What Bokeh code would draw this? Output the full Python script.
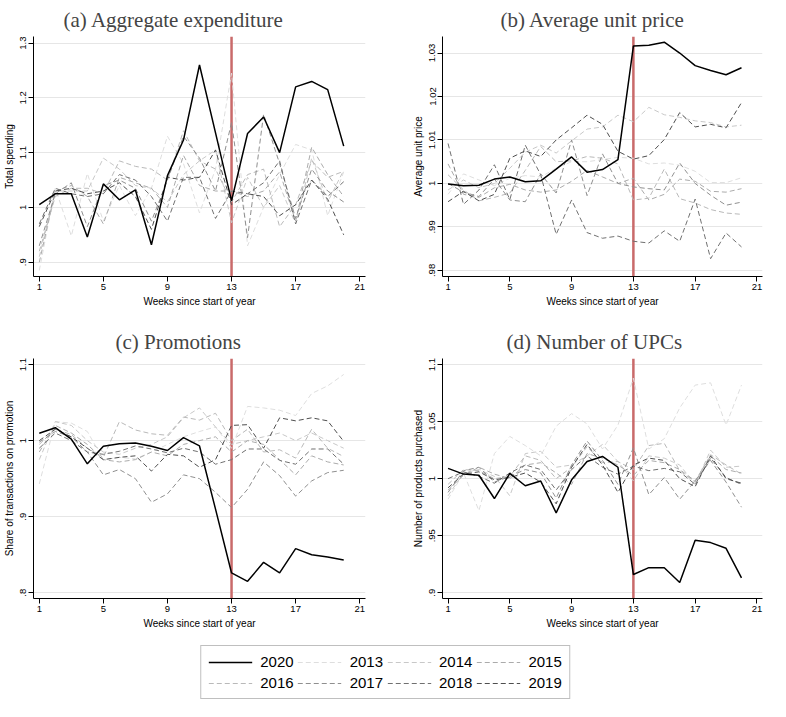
import numpy as np
from bokeh.plotting import figure
from bokeh.models import Range1d, FixedTicker, Span, Legend, LegendItem, ColumnDataSource
from bokeh.layouts import column, row
from bokeh.embed import file_html
from bokeh.resources import INLINE

# ---------------- data ----------------
weeks = list(range(1, 21))
event_week = 13
x_ticks = [1, 5, 9, 13, 17, 21]

years = ["2020", "2013", "2014", "2015", "2016", "2017", "2018", "2019"]

# (a) Aggregate expenditure
spend_2020 = [1.005, 1.025, 1.025, 0.946, 1.043, 1.014, 1.032, 0.932, 1.058, 1.123, 1.260, 1.136, 1.012, 1.135, 1.165, 1.100, 1.220, 1.230, 1.215, 1.112]
spend_2013 = [0.885, 1.035, 0.948, 1.062, 0.975, 1.040, 0.985, 1.035, 1.130, 1.080, 0.990, 1.070, 1.245, 0.930, 1.000, 1.060, 1.115, 1.105, 0.985, 1.065]
spend_2014 = [0.910, 1.030, 1.030, 1.030, 1.090, 1.070, 1.040, 1.035, 1.010, 1.060, 1.085, 1.105, 0.972, 1.055, 1.000, 1.040, 0.970, 1.090, 1.010, 1.068]
spend_2015 = [0.900, 1.030, 1.040, 1.020, 0.970, 1.055, 1.045, 1.035, 1.000, 1.095, 1.040, 1.030, 1.030, 1.020, 1.030, 1.065, 0.975, 1.110, 1.060, 1.020]
spend_2016 = [0.920, 1.020, 1.035, 1.035, 1.025, 1.085, 1.075, 1.070, 1.050, 1.140, 1.085, 1.070, 1.010, 1.060, 1.070, 0.965, 1.005, 1.085, 1.055, 1.066]
spend_2017 = [0.930, 1.025, 1.045, 0.965, 1.040, 1.050, 1.035, 0.975, 1.050, 1.130, 1.090, 1.030, 1.155, 0.945, 1.170, 1.080, 0.980, 1.070, 1.030, 1.010]
spend_2018 = [0.970, 1.035, 1.025, 1.020, 1.025, 1.060, 1.050, 1.020, 0.975, 1.055, 1.055, 0.980, 1.030, 1.025, 1.045, 1.085, 0.970, 1.050, 1.020, 1.047]
spend_2019 = [0.965, 1.030, 1.035, 1.025, 1.030, 1.045, 1.020, 0.960, 1.055, 1.050, 1.055, 1.105, 1.005, 1.025, 1.020, 0.985, 1.005, 1.050, 1.015, 0.950]

# (b) Average unit price
price_2020 = [0.9999, 0.9995, 0.9996, 1.0010, 1.0015, 1.0004, 1.0006, 1.0033, 1.0061, 1.0026, 1.0032, 1.0055, 1.0316, 1.0318, 1.0325, 1.0300, 1.0271, 1.0260, 1.0250, 1.0266]
price_2013 = [0.9975, 1.0022, 1.0008, 0.9995, 1.0012, 1.0018, 1.0015, 1.0035, 1.0050, 1.0050, 1.0055, 1.0060, 1.0058, 1.0045, 1.0047, 1.0042, 1.0028, 1.0002, 1.0002, 1.0013]
price_2014 = [0.9985, 1.0008, 0.9990, 1.0000, 1.0035, 1.0072, 1.0088, 1.0070, 1.0098, 1.0125, 1.0130, 1.0157, 1.0142, 1.0175, 1.0158, 1.0152, 1.0144, 1.0140, 1.0130, 1.0134]
price_2015 = [1.0045, 0.9975, 0.9968, 0.9990, 0.9998, 0.9985, 0.9980, 0.9985, 1.0005, 1.0030, 1.0015, 1.0000, 1.0012, 0.9962, 0.9975, 1.0010, 1.0005, 0.9982, 0.9980, 0.9988]
price_2016 = [1.0020, 0.9985, 0.9960, 0.9968, 0.9978, 1.0030, 1.0085, 1.0050, 1.0052, 1.0062, 1.0058, 1.0045, 0.9962, 0.9966, 1.0033, 0.9965, 0.9955, 0.9940, 0.9932, 0.9929]
price_2017 = [1.0000, 0.9980, 0.9970, 1.0010, 0.9962, 0.9958, 1.0022, 0.9978, 1.0100, 0.9972, 1.0068, 1.0000, 0.9992, 0.9988, 0.9985, 1.0047, 1.0000, 0.9973, 0.9950, 0.9957]
price_2018 = [1.0092, 0.9952, 0.9985, 1.0043, 0.9963, 1.0088, 1.0020, 0.9883, 0.9962, 0.9887, 0.9874, 0.9879, 0.9867, 0.9863, 0.9891, 0.9867, 0.9964, 0.9827, 0.9886, 0.9854]
price_2019 = [0.9958, 0.9982, 0.9960, 0.9975, 1.0058, 1.0075, 1.0062, 1.0100, 1.0128, 1.0157, 1.0136, 1.0074, 1.0056, 1.0064, 1.0101, 1.0163, 1.0130, 1.0136, 1.0128, 1.0186]

# (c) Promotions
promo_2020 = [1.0097, 1.0170, 1.0020, 0.9695, 0.9925, 0.9960, 0.9970, 0.9925, 0.9870, 1.0040, 0.9930, 0.9100, 0.8260, 0.8150, 0.8400, 0.8260, 0.8580, 0.8500, 0.8470, 0.8430]
promo_2013 = [0.943, 1.025, 1.023, 1.012, 0.975, 0.978, 0.976, 0.985, 0.995, 1.005, 1.012, 1.018, 0.990, 1.045, 1.043, 1.040, 1.033, 1.062, 1.072, 1.087]
promo_2014 = [0.975, 1.025, 1.020, 1.000, 0.985, 0.982, 0.990, 0.995, 1.005, 1.030, 1.043, 1.018, 0.995, 1.000, 1.005, 1.010, 1.000, 1.010, 1.000, 0.990]
promo_2015 = [0.985, 1.020, 1.010, 0.995, 0.975, 0.972, 0.975, 0.985, 0.980, 0.995, 1.000, 1.005, 0.985, 1.000, 0.995, 0.975, 0.955, 0.980, 0.972, 0.968]
promo_2016 = [0.995, 1.015, 1.008, 0.990, 0.978, 1.025, 1.014, 1.009, 1.007, 1.031, 1.027, 1.036, 1.000, 1.015, 0.985, 0.988, 0.977, 1.015, 0.990, 0.979]
promo_2017 = [0.998, 1.012, 1.005, 0.985, 0.955, 0.962, 0.950, 0.919, 0.930, 0.955, 0.950, 0.932, 0.912, 0.936, 0.972, 0.954, 0.927, 0.947, 0.958, 0.961]
promo_2018 = [0.990, 1.010, 1.000, 0.985, 0.982, 0.986, 0.993, 0.989, 0.984, 0.990, 0.985, 0.969, 0.975, 0.989, 0.989, 0.974, 0.969, 0.989, 0.989, 0.969]
promo_2019 = [1.000, 1.015, 1.005, 0.990, 0.975, 0.978, 0.980, 0.960, 0.982, 0.980, 0.965, 0.975, 1.020, 1.021, 0.990, 1.030, 1.026, 1.030, 1.026, 0.999]

# (d) Number of UPCs
upc_2020 = [1.009, 1.004, 1.003, 0.9826, 1.0047, 0.9938, 0.998, 0.970, 0.999, 1.015, 1.0195, 1.010, 0.916, 0.922, 0.922, 0.909, 0.946, 0.944, 0.939, 0.913]
upc_2013 = [0.982, 1.005, 0.972, 1.022, 1.037, 1.029, 1.020, 1.046, 1.057, 1.048, 1.026, 1.047, 1.088, 1.026, 1.035, 1.062, 1.082, 1.084, 1.047, 1.082]
upc_2014 = [0.985, 1.005, 1.008, 1.002, 0.985, 1.022, 1.024, 1.010, 1.012, 1.020, 1.030, 1.015, 0.998, 1.020, 1.018, 1.012, 0.995, 1.025, 1.010, 1.011]
upc_2015 = [0.990, 1.003, 1.010, 1.004, 1.000, 1.012, 1.014, 1.005, 0.995, 1.022, 1.018, 1.012, 1.003, 1.016, 1.014, 1.008, 0.998, 1.020, 1.008, 1.005]
upc_2016 = [0.995, 1.008, 1.007, 1.000, 1.002, 1.020, 1.016, 1.000, 1.010, 1.028, 1.014, 1.015, 1.008, 1.029, 1.031, 1.007, 0.997, 1.021, 1.012, 1.004]
upc_2017 = [0.988, 1.007, 1.010, 0.997, 1.002, 1.008, 1.005, 0.983, 1.012, 1.033, 1.016, 0.995, 1.027, 0.986, 1.001, 0.982, 0.998, 1.016, 0.997, 0.975]
upc_2018 = [1.000, 1.006, 1.002, 0.996, 1.005, 1.012, 1.008, 0.990, 1.008, 1.020, 1.010, 1.004, 1.011, 1.007, 1.009, 1.006, 0.995, 1.018, 1.001, 0.995]
upc_2019 = [0.992, 1.004, 1.006, 0.999, 1.001, 1.005, 0.997, 0.978, 1.010, 1.030, 1.012, 0.988, 1.012, 1.018, 1.016, 1.000, 0.993, 1.020, 1.000, 0.996]

# tick values and labels per panel
spend_ticks = [0.9, 1.0, 1.1, 1.2, 1.3]
spend_tick_labels = [".9", "1", "1.1", "1.2", "1.3"]
price_ticks = [0.98, 0.99, 1.0, 1.01, 1.02, 1.03]
price_tick_labels = [".98", ".99", "1", "1.01", "1.02", "1.03"]
promo_ticks = [0.8, 0.9, 1.0, 1.1]
promo_tick_labels = [".8", ".9", "1", "1.1"]
upc_ticks = [0.9, 0.95, 1.0, 1.05, 1.1]
upc_tick_labels = [".9", ".95", "1", "1.05", "1.1"]

# ---------------- styles ----------------
year_colors = ["#000000", "#dedede", "#c8c8c8", "#ababab", "#b9b9b9", "#8f8f8f", "#707070", "#4e4e4e"]
year_dash = ["solid", "5 3", "5 3", "5 3", "5 3", "5 3", "5 3", "5 3"]
year_width = [1.5, 1, 1, 1, 1, 1, 1, 1]
RED = "#c96a6a"
SANS = "Liberation Sans"
SERIF = "Liberation Serif"

ROW_H = 322


def make_panel(title, ylab, series, yr, ticks, tick_labels, width, bl, br, title_offset):
    p = figure(width=width, height=ROW_H, output_backend="svg", toolbar_location=None,
               x_range=Range1d(0.64, 21.36), y_range=Range1d(*yr),
               min_border_left=bl, min_border_right=br, min_border_top=4, min_border_bottom=46)
    p.title.text = title
    p.title.text_font = SERIF
    p.title.text_font_size = "21px"
    p.title.text_font_style = "normal"
    p.title.align = "left"
    p.title.offset = title_offset
    p.title.standoff = 10
    p.outline_line_color = None
    p.background_fill_color = "white"
    p.border_fill_color = "white"
    p.xgrid.visible = False
    p.ygrid.grid_line_color = "#e6e6e6"
    p.ygrid.grid_line_width = 1
    p.xaxis.ticker = FixedTicker(ticks=x_ticks)
    p.yaxis.ticker = FixedTicker(ticks=ticks)
    p.yaxis.major_label_overrides = {float(t): l for t, l in zip(ticks, tick_labels)}
    p.xaxis.axis_label = "Weeks since start of year"
    p.yaxis.axis_label = ylab
    for ax in (p.xaxis[0], p.yaxis[0]):
        ax.axis_line_color = "black"
        ax.axis_line_width = 1
        ax.major_tick_line_color = "black"
        ax.major_tick_out = 5
        ax.major_tick_in = 0
        ax.minor_tick_line_color = None
        ax.major_label_text_font = SANS
        ax.major_label_text_font_size = "9.5px"
        ax.major_label_text_color = "black"
        ax.major_label_standoff = 2
        ax.axis_label_text_font = SANS
        ax.axis_label_text_font_size = "10px"
        ax.axis_label_text_font_style = "normal"
        ax.axis_label_text_color = "black"
        ax.axis_label_standoff = 3
    p.yaxis.major_label_orientation = "vertical"
    p.add_layout(Span(location=event_week, dimension="height", line_color=RED,
                      line_width=2.5, level="underlay"))
    order = list(range(1, len(series))) + [0]
    for i in order:
        p.line(weeks, series[i], line_color=year_colors[i], line_width=year_width[i],
               line_dash=year_dash[i])
    return p


pa = make_panel("(a)  Aggregate expenditure", "Total spending",
                [spend_2020, spend_2013, spend_2014, spend_2015, spend_2016, spend_2017, spend_2018, spend_2019],
                (0.874, 1.312), spend_ticks, spend_tick_labels, 380, 20, 15, 30)
pb = make_panel("(b)  Average unit price", "Average unit price",
                [price_2020, price_2013, price_2014, price_2015, price_2016, price_2017, price_2018, price_2019],
                (0.9786, 1.0338), price_ticks, price_tick_labels, 390, 62, 8, 58)
pc = make_panel("(c)  Promotions", "Share of transactions on promotion",
                [promo_2020, promo_2013, promo_2014, promo_2015, promo_2016, promo_2017, promo_2018, promo_2019],
                (0.7924, 1.108), promo_ticks, promo_tick_labels, 380, 20, 15, 82)
pd_ = make_panel("(d)  Number of UPCs", "Number of products purchased",
                 [upc_2020, upc_2013, upc_2014, upc_2015, upc_2016, upc_2017, upc_2018, upc_2019],
                 (0.895, 1.1053), upc_ticks, upc_tick_labels, 390, 62, 8, 64)

# legend strip (legend-only renderers hold no visible data)
lp = figure(width=770, height=56, output_backend="svg", toolbar_location=None,
            x_range=Range1d(0, 1), y_range=Range1d(0, 1), min_border=0)
lp.axis.visible = False
lp.grid.visible = False
lp.outline_line_color = None
items = []
for i, yr in enumerate(years):
    r = lp.line(x="x", y="y", source=ColumnDataSource(dict(x=[np.nan, np.nan], y=[np.nan, np.nan])),
                line_color=year_colors[i], line_width=year_width[i], line_dash=year_dash[i])
    items.append(LegendItem(label=yr, renderers=[r]))
legend = Legend(items=items, orientation="horizontal", ncols=4, location="center",
                label_text_font=SANS, label_text_font_size="15px", label_text_color="black",
                glyph_width=44, glyph_height=16, label_height=16, label_standoff=8,
                spacing=4, padding=7, margin=0,
                border_line_color="#7f7f7f", border_line_width=1,
                background_fill_color="white", background_fill_alpha=1)
lp.add_layout(legend, "center")

layout = column(row(pa, pb), row(pc, pd_), lp)

open("out.html", "w").write(file_html(layout, INLINE))
